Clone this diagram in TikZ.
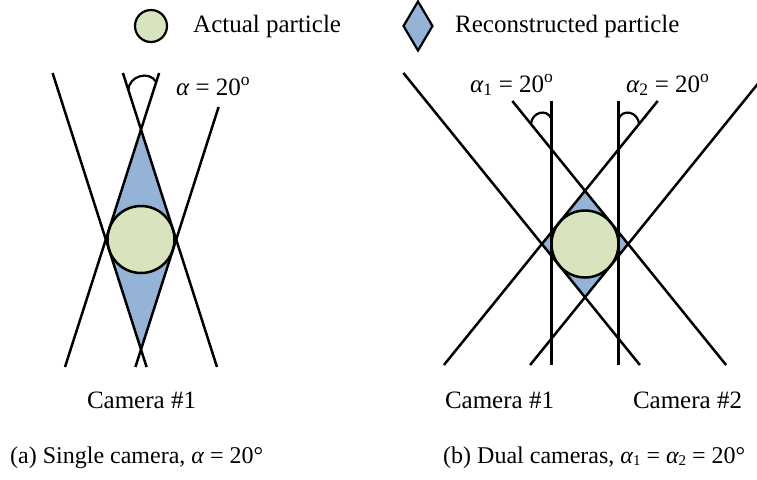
\documentclass[tikz,border=0pt]{standalone}
\usepackage{fontspec}
\setmainfont{Liberation Serif}
\definecolor{partgreen}{RGB}{215,228,189}
\definecolor{recblue}{RGB}{149,179,215}
\newcommand{\myal}{{\itshape α}}
\newcommand{\mysub}[1]{\raisebox{-0.12em}{\fontsize{15}{15}\selectfont #1}}
\begin{document}
\begin{tikzpicture}[x=1pt,y=-1pt,
  txt/.style={inner sep=0pt, font=\fontsize{25}{30}\selectfont},
  captxt/.style={inner sep=0pt, font=\fontsize{24}{29}\selectfont},
  ray/.style={draw=black, line width=2.5pt},
  particle/.style={draw=black, fill=partgreen, line width=2.5pt},
  recon/.style={fill=recblue, draw=none},
  anglearc/.style={draw=black, line width=2.2pt}]
\useasboundingbox (0,0) rectangle (757,479);
\begin{scope}
\clip (0,0) rectangle (757,479);
% ---------- legend ----------
\node[circle, draw=black, fill=partgreen, line width=2.2pt, minimum size=32pt, inner sep=0pt] (legC) at (151,26) {};
\node[txt, anchor=base west] (legCt) at (193,32) {Actual particle};
\draw[fill=recblue, line width=2.2pt] (418,1.5) -- (432.5,26) -- (418,50.5) -- (403.5,26) -- cycle;
\coordinate (legD) at (418,26);
\node[txt, anchor=base west] (legDt) at (455,32) {Reconstructed particle};

% ---------- (a) single camera ----------
\coordinate (aT) at (141,129.6);
\coordinate (aB) at (141,349.4);
\coordinate (aL) at (105.8,239.5);
\coordinate (aR) at (176.2,239.5);
\fill[recon] (aT) -- (aL) -- (aB) -- (aR) -- cycle;
\draw[particle] (141,239.5) circle (33.5);
% rays
\coordinate (aA1) at (52.6,73);   \coordinate (aA2) at (146.6,367);
\coordinate (aB1) at (159.1,73);  \coordinate (aB2) at (65.0,367);
\coordinate (aC1) at (122.9,73);  \coordinate (aC2) at (217.0,367);
\coordinate (aD1) at (218.6,107); \coordinate (aD2) at (135.4,367);
\draw[ray] (aA1) -- (aA2);
\draw[ray] (aB1) -- (aB2);
\draw[ray] (aC1) -- (aC2);
\draw[ray] (aD1) -- (aD2);
\draw[anglearc] (128.3,90) .. controls (129,76) and (149,70) .. (156.2,82);
\node[txt, anchor=base west] (aLbl) at (176,95) {\myal{} = 20\textsuperscript{o}};
\node[txt, anchor=base] (aCam) at (141.5,408) {Camera \#1};
\node[captxt, anchor=base west] (aCap) at (10,463) {(a) Single camera, \myal{} = 20°};

% ---------- (b) dual cameras ----------
\coordinate (bT) at (585,190.8);
\coordinate (bB) at (585,297.2);
\coordinate (bL) at (541.9,244);
\coordinate (bR) at (628.1,244);
\fill[recon] (bT) -- (bL) -- (bB) -- (bR) -- cycle;
\draw[particle] (585,244) circle (33.5);
\coordinate (bE1) at (403.4,73);  \coordinate (bE2) at (639.9,365);
\coordinate (bF1) at (512.3,101); \coordinate (bF2) at (726.1,365);
\coordinate (bG1) at (657.7,101); \coordinate (bG2) at (443.9,365);
\coordinate (bH1) at (766.6,73);  \coordinate (bH2) at (530.1,365);
\coordinate (bV1a) at (551.5,101); \coordinate (bV1b) at (551.5,365);
\coordinate (bV2a) at (618.5,101); \coordinate (bV2b) at (618.5,365);
\draw[ray] (bE1) -- (bE2);
\draw[ray] (bF1) -- (bF2);
\draw[ray] (bG1) -- (bG2);
\draw[ray] (bH1) -- (bH2);
\draw[ray] (bV1a) -- (bV1b);
\draw[ray] (bV2a) -- (bV2b);
\draw[anglearc] (530.9,124) .. controls (532,112) and (547,108) .. (551.5,119);
\draw[anglearc] (639.1,124) .. controls (638,112) and (623,108) .. (618.5,119);
\node[txt, anchor=base west] (bLbl1) at (470,92) {\myal\textsubscript{1} = 20\textsuperscript{o}};
\node[txt, anchor=base west] (bLbl2) at (626,92) {\myal\textsubscript{2} = 20\textsuperscript{o}};
\node[txt, anchor=base] (bCam1) at (499.5,408) {Camera \#1};
\node[txt, anchor=base] (bCam2) at (687.5,408) {Camera \#2};
\node[captxt, anchor=base west] (bCap) at (443,463) {(b) Dual cameras, \myal\mysub{1} = \myal\mysub{2} = 20°};
\end{scope}
\end{tikzpicture}
\end{document}
